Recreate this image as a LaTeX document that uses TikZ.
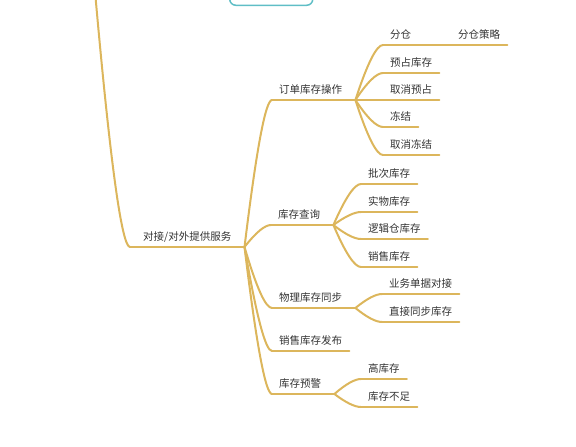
\documentclass[tikz,border=0pt]{standalone}
\usepackage{fontspec}
\setmainfont{Noto Sans CJK SC}
\usetikzlibrary{calc}
\definecolor{linkgold}{RGB}{220,182,92}
\definecolor{boxteal}{RGB}{95,190,198}
\definecolor{txtgray}{RGB}{51,51,51}

\begin{document}
\begin{tikzpicture}[x=1pt,y=1pt,
	topic/.style={anchor=south west,inner xsep=7pt,inner ysep=5pt,text height=8pt,
		text depth=1pt,text=txtgray,font=\fontsize{10.5}{12}\selectfont},
	link/.style={draw=linkgold,line width=2pt,line cap=round},
	every edge/.style={link},
	mm/.style={to path={let \p1=(\tikztostart),\p2=(\tikztotarget) in
		.. controls ({\x1+0.433*(\x2-\x1)},{\y1+0.667*(\y2-\y1)})
		and ({\x2-0.233*(\x2-\x1)},\y2) .. (\tikztotarget)}}]
	
	\clip (0,0) rectangle (576,-447);
	
	% parent topic, cut by the top edge
	\node[draw=boxteal,line width=1.5pt,rounded corners=6pt,anchor=south west,
		minimum width=83pt,minimum height=30pt] (parent) at (229,-6) {};
	\coordinate (up) at (94,20);
	
	\node[topic,inner xsep=13pt] (root) at (130,-247) {对接/对外提供服务};
	
	\node[topic] (ops)   at (272,-100) {订单库存操作};
	\node[topic] (query) at (271,-225) {库存查询};
	\node[topic] (sync)  at (272,-308) {物理库存同步};
	\node[topic] (pub)   at (272,-351) {销售库存发布};
	\node[topic] (warn)  at (272,-394) {库存预警};
	
	\node[topic] (split)   at (383,-45)  {分仓};
	\node[topic] (policy)  at (451,-45)  {分仓策略};
	\node[topic] (reserve) at (383,-73)  {预占库存};
	\node[topic] (unres)   at (383,-100) {取消预占};
	\node[topic] (freeze)  at (383,-127) {冻结};
	\node[topic] (unfrz)   at (383,-155) {取消冻结};
	
	\node[topic] (batch)   at (361,-184) {批次库存};
	\node[topic] (phys)    at (361,-212) {实物库存};
	\node[topic] (logic)   at (361,-239) {逻辑仓库存};
	\node[topic] (sales)   at (361,-267) {销售库存};
	
	\node[topic] (bill)    at (382,-294) {业务单据对接};
	\node[topic] (direct)  at (382,-322) {直接同步库存};
	
	\node[topic] (high)    at (361,-379) {高库存};
	\node[topic] (low)     at (361,-407) {库存不足};
	
	\foreach \n in {ops,query,sync,warn}
		\coordinate (\n-j) at ([xshift=6pt]\n.south east);
	
	% underlines
	\draw[link] (root.south west) -- (root.south east);
	\foreach \n in {ops,query,sync,warn}
		\draw[link] (\n.south west) -- (\n-j);
	\foreach \n in {pub,split,policy,reserve,unres,freeze,unfrz,batch,phys,logic,sales,bill,direct,high,low}
		\draw[link] (\n.south west) -- (\n.south east);
	
	% branches
	\path (up) edge[mm] (root.south west)
	(root.south east) edge[mm] (ops.south west)
	edge[mm] (query.south west)
	edge[mm] (sync.south west)
	edge[mm] (pub.south west)
	edge[mm] (warn.south west)
	(ops-j) edge[mm] (split.south west)
	edge[mm] (reserve.south west)
	edge[mm] (unres.south west)
	edge[mm] (freeze.south west)
	edge[mm] (unfrz.south west)
	(split.south east) edge (policy.south west)
	(query-j) edge[mm] (batch.south west)
	edge[mm] (phys.south west)
	edge[mm] (logic.south west)
	edge[mm] (sales.south west)
	(sync-j) edge[mm] (bill.south west)
	edge[mm] (direct.south west)
	(warn-j) edge[mm] (high.south west)
	edge[mm] (low.south west);
\end{tikzpicture}
\end{document}
